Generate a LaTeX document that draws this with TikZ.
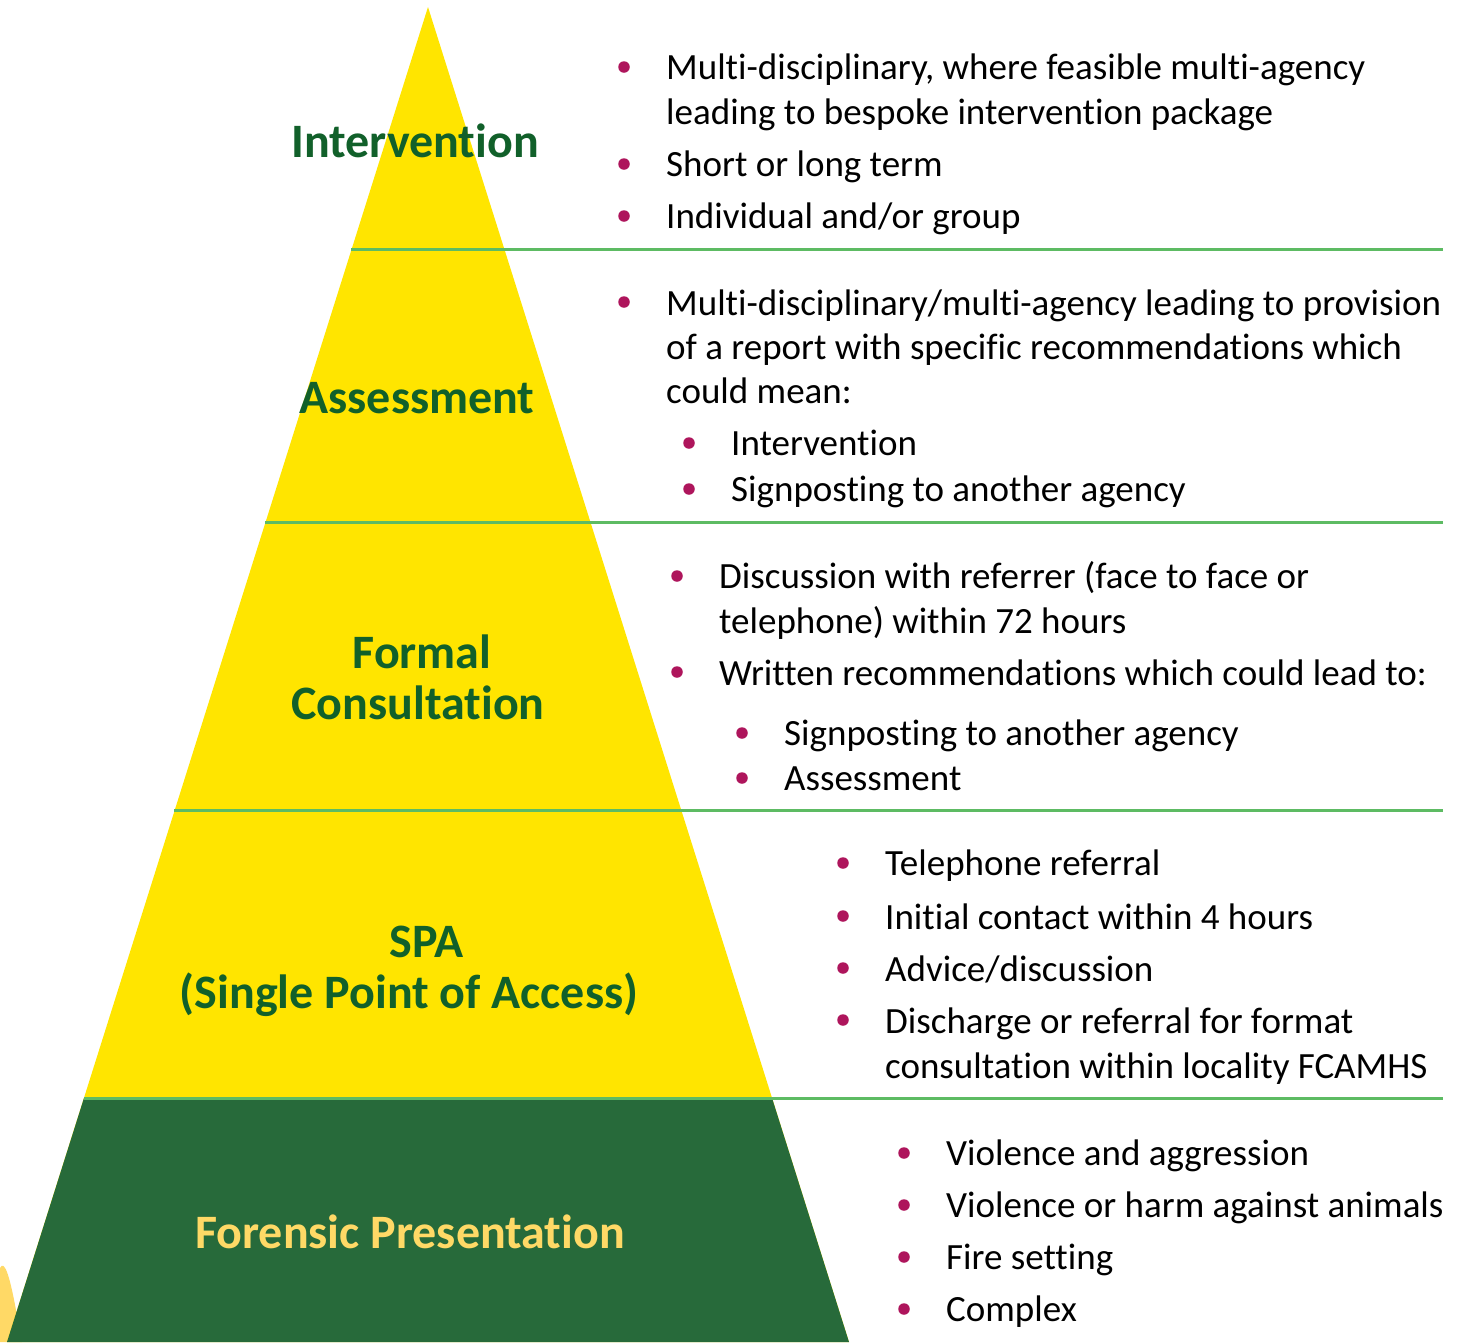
\documentclass[tikz,border=0pt]{standalone}
\usepackage{fontspec}
\setmainfont{Carlito}[Ligatures={NoCommon}]
\definecolor{pyyellow}{HTML}{FFE500}
\definecolor{pygreen}{HTML}{276A3A}
\definecolor{titlegreen}{HTML}{11602A}
\definecolor{lightyel}{HTML}{FFD966}
\definecolor{rulegreen}{HTML}{5DBB63}
\definecolor{bulletcol}{HTML}{AE155C}
\begin{document}
\begin{tikzpicture}[x=1pt,y=-1pt,
  body/.style={anchor=base west,inner sep=0pt,font=\fontsize{37}{44}\selectfont,text=black},
  ttl/.style={anchor=base,inner sep=0pt,font=\bfseries\fontsize{48}{52}\selectfont,text=titlegreen},
  dot/.style={circle,fill=bulletcol,inner sep=0pt,minimum size=11.5pt},
  divider/.style={draw=rulegreen,line width=3pt}]
\useasboundingbox (0,0) rectangle (1461,1342);
% small blob at bottom left
\fill[lightyel] (0,1268) .. controls (4,1260) and (9,1272) .. (16,1310) -- (22,1342) -- (0,1342) -- cycle;
% pyramid
\coordinate (apex) at (428,7);
\coordinate (bl) at (7,1342);
\coordinate (br) at (849,1342);
\fill[pyyellow] (apex) -- (bl) -- (br) -- cycle;
\fill[pygreen] (84,1098) -- (772,1098) -- (br) -- (bl) -- cycle;
% dividers
\coordinate (d1a) at (351,249); \coordinate (d1b) at (1443,249);
\coordinate (d2a) at (265,522); \coordinate (d2b) at (1443,522);
\coordinate (d3a) at (174,810); \coordinate (d3b) at (1443,810);
\coordinate (d4a) at (84,1098); \coordinate (d4b) at (1443,1098);
\draw[divider] (d1a) -- (d1b);
\draw[divider] (d2a) -- (d2b);
\draw[divider] (d3a) -- (d3b);
\draw[divider] (d4a) -- (d4b);
% titles
\node[ttl] (t1) at (415,157) {Intervention};
\node[ttl] (t2) at (417,413) {Assessment};
\node[ttl] (t3a) at (422,668) {Formal};
\node[ttl] (t3b) at (418,719) {Consultation};
\node[ttl] (t4a) at (427,957) {SPA};
\node[ttl] (t4b) at (409,1008) {(Single Point of Access)};
\node[ttl,text=lightyel] (t5) at (410,1248) {Forensic Presentation};
% section 1
\node[dot] (b11) at (624,67) {};
\node[dot] (b12) at (624,164) {};
\node[dot] (b13) at (624,216) {};
\node[body] (s11) at (666,79) {Multi-disciplinary, where feasible multi-agency};
\node[body] (s12) at (666,124) {leading to bespoke intervention package};
\node[body] (s13) at (666,176) {Short or long term};
\node[body] (s14) at (666,228) {Individual and/or group};
% section 2
\node[dot] (b21) at (624,302) {};
\node[dot] (b22) at (689,443) {};
\node[dot] (b23) at (689,489) {};
\node[body] (s21) at (666,315) {Multi-disciplinary/multi-agency leading to provision};
\node[body] (s22) at (666,359) {of a report with specific recommendations which};
\node[body] (s23) at (666,403) {could mean:};
\node[body] (s24) at (731,455) {Intervention};
\node[body] (s25) at (731,501) {Signposting to another agency};
% section 3
\node[dot] (b31) at (677,576) {};
\node[dot] (b32) at (677,672) {};
\node[dot] (b33) at (742,733) {};
\node[dot] (b34) at (742,778) {};
\node[body] (s31) at (719,588) {Discussion with referrer (face to face or};
\node[body] (s32) at (719,633) {telephone) within 72 hours};
\node[body] (s33) at (719,685) {Written recommendations which could lead to:};
\node[body] (s34) at (784,745) {Signposting to another agency};
\node[body] (s35) at (784,790) {Assessment};
% section 4
\node[dot] (b41) at (843,863) {};
\node[dot] (b42) at (843,916) {};
\node[dot] (b43) at (843,968) {};
\node[dot] (b44) at (843,1020) {};
\node[body] (s41) at (885,875) {Telephone referral};
\node[body] (s42) at (885,929) {Initial contact within 4 hours};
\node[body] (s43) at (885,981) {Advice/discussion};
\node[body] (s44) at (885,1033) {Discharge or referral for format};
\node[body] (s45) at (885,1078) {consultation within locality FCAMHS};
% section 5
\node[dot] (b51) at (904,1153) {};
\node[dot] (b52) at (904,1205) {};
\node[dot] (b53) at (904,1257) {};
\node[dot] (b54) at (904,1309) {};
\node[body] (s51) at (946,1165) {Violence and aggression};
\node[body] (s52) at (946,1217) {Violence or harm against animals};
\node[body] (s53) at (946,1269) {Fire setting};
\node[body] (s54) at (946,1321) {Complex};
\end{tikzpicture}
\end{document}
